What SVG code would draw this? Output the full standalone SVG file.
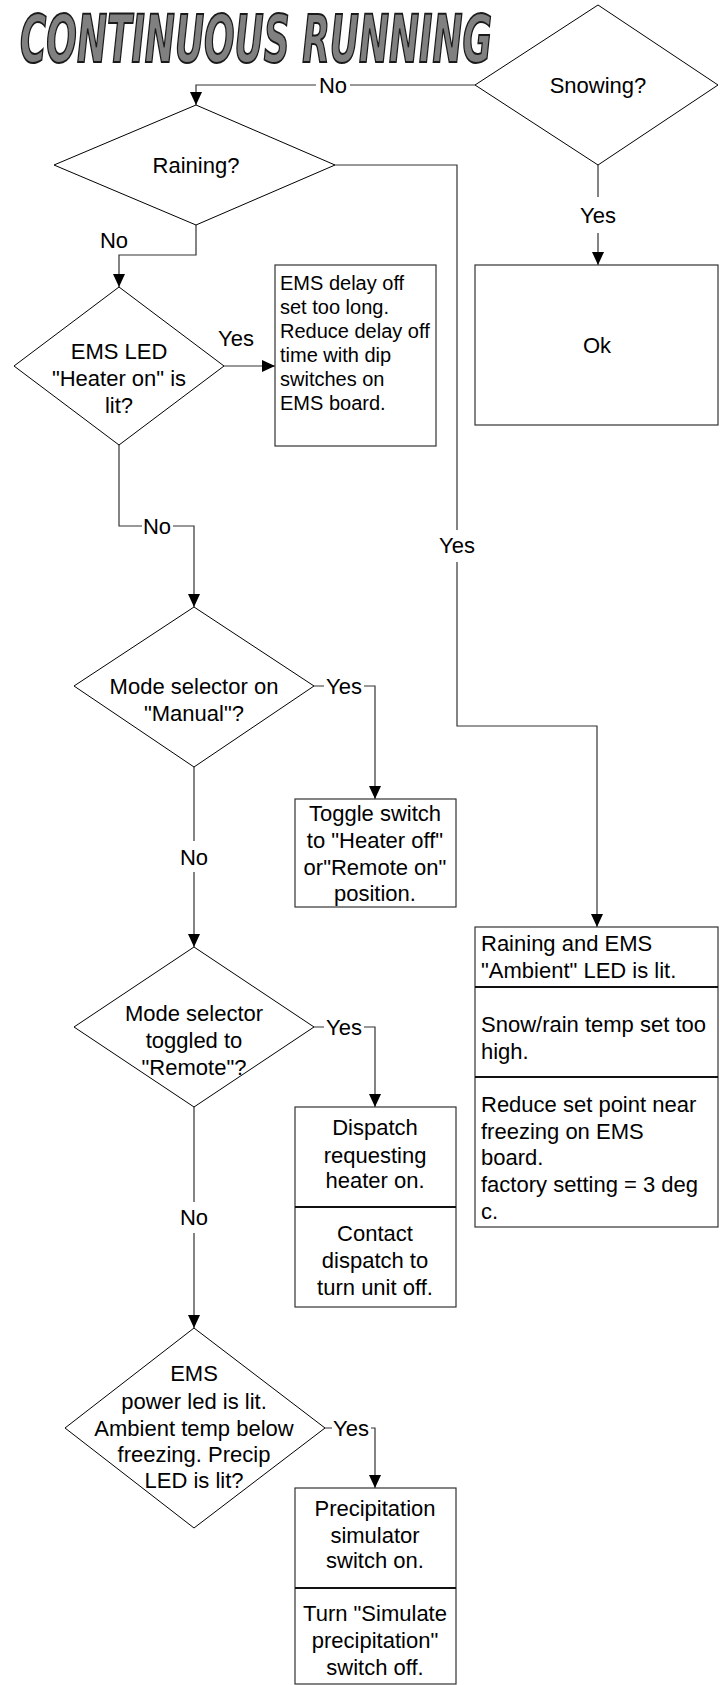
<svg xmlns="http://www.w3.org/2000/svg" width="720" height="1685" viewBox="0 0 720 1685">
<style>
text{font-family:"Liberation Sans",Arial,sans-serif;fill:#000}
.t{font-size:22px;text-anchor:middle}
.l{font-size:22px}
.s{font-size:20px}
.d{fill:#fff;stroke:#000;stroke-width:1}
.b{fill:#fff;stroke:#333;stroke-width:1.2}
.div{stroke:#111;stroke-width:2.2}
.c{fill:none;stroke:#333;stroke-width:1.2}
.title{font-family:"DejaVu Sans Condensed","DejaVu Sans",sans-serif;font-weight:bold;font-style:italic;font-size:66px;fill:#808080;stroke:#1a1a1a;stroke-width:2}
</style>
<defs>
<marker id="ah" markerUnits="userSpaceOnUse" markerWidth="14" markerHeight="12" refX="13" refY="6" orient="auto">
<path d="M0,0 L13,6 L0,12 Z" fill="#000"/>
</marker>
</defs>
<rect width="720" height="1685" fill="#fff"/>
<text class="title" x="20" y="62" textLength="472" lengthAdjust="spacingAndGlyphs">CONTINUOUS RUNNING</text>

<g id="connectors">
<path class="c" d="M475,85 H350 M316,85 H196 V105" marker-end="url(#ah)"/>
<path class="c" d="M598,165 V197 M598,233 V265" marker-end="url(#ah)"/>
<path class="c" d="M335,165 H457 V530 M457,562 V726 H597 V927" marker-end="url(#ah)"/>
<path class="c" d="M196,225 V255 H119 V287" marker-end="url(#ah)"/>
<path class="c" d="M224,366 H275" marker-end="url(#ah)"/>
<path class="c" d="M119,445 V526 H142 M173,526 H194 V607" marker-end="url(#ah)"/>
<path class="c" d="M314,686 H324 M364,686 H375 V799" marker-end="url(#ah)"/>
<path class="c" d="M194,767 V841 M194,872 V947" marker-end="url(#ah)"/>
<path class="c" d="M314,1027 H324 M364,1027 H375 V1107" marker-end="url(#ah)"/>
<path class="c" d="M194,1107 V1202 M194,1233 V1328" marker-end="url(#ah)"/>
<path class="c" d="M325,1428 H332 M371,1428 H375 V1488" marker-end="url(#ah)"/>
<text class="t" x="333" y="93">No</text>
<text class="t" x="598" y="223">Yes</text>
<text class="t" x="457" y="553">Yes</text>
<text class="t" x="114" y="248">No</text>
<text class="t" x="236" y="346">Yes</text>
<text class="t" x="157" y="534">No</text>
<text class="t" x="344" y="694">Yes</text>
<text class="t" x="194" y="865">No</text>
<text class="t" x="344" y="1035">Yes</text>
<text class="t" x="194" y="1225">No</text>
<text class="t" x="351" y="1436">Yes</text>
</g>

<g id="snowing">
<polygon class="d" points="598,5 718,85 598,165 475,85"/>
<text class="t" x="598" y="93">Snowing?</text>
</g>
<g id="ok">
<rect class="b" x="475" y="265" width="243" height="160"/>
<text class="t" x="597" y="353">Ok</text>
</g>
<g id="raining">
<polygon class="d" points="196,105 335,165 196,225 54,165"/>
<text class="t" x="196" y="173">Raining?</text>
</g>
<g id="ems-led">
<polygon class="d" points="119,287 224,366 119,445 14,366"/>
<text class="t" x="119" y="359">EMS LED</text>
<text class="t" x="119" y="386">"Heater on" is</text>
<text class="t" x="119" y="413">lit?</text>
</g>
<g id="ems-delay">
<rect class="b" x="275" y="265" width="161" height="181"/>
<text class="s" x="280" y="290">EMS delay off</text>
<text class="s" x="280" y="314">set too long.</text>
<text class="s" x="280" y="338">Reduce delay off</text>
<text class="s" x="280" y="362">time with dip</text>
<text class="s" x="280" y="386">switches on</text>
<text class="s" x="280" y="410">EMS board.</text>
</g>
<g id="mode-manual">
<polygon class="d" points="194,607 314,686 194,767 74,686"/>
<text class="t" x="194" y="694">Mode selector on</text>
<text class="t" x="194" y="721">"Manual"?</text>
</g>
<g id="toggle">
<rect class="b" x="295" y="799" width="161" height="108"/>
<text class="t" x="375" y="821">Toggle switch</text>
<text class="t" x="375" y="848">to "Heater off"</text>
<text class="t" x="375" y="875">or"Remote on"</text>
<text class="t" x="375" y="901">position.</text>
</g>
<g id="rain-box">
<rect class="b" x="475" y="927" width="243" height="300"/>
<line class="div" x1="475" y1="987" x2="718" y2="987"/>
<line class="div" x1="475" y1="1077" x2="718" y2="1077"/>
<text class="l" x="481" y="951">Raining and EMS</text>
<text class="l" x="481" y="978">"Ambient" LED is lit.</text>
<text class="l" x="481" y="1032">Snow/rain temp set too</text>
<text class="l" x="481" y="1059">high.</text>
<text class="l" x="481" y="1112">Reduce set point near</text>
<text class="l" x="481" y="1139">freezing on EMS</text>
<text class="l" x="481" y="1165">board.</text>
<text class="l" x="481" y="1192">factory setting = 3 deg</text>
<text class="l" x="481" y="1219">c.</text>
</g>
<g id="mode-remote">
<polygon class="d" points="194,947 314,1027 194,1107 74,1027"/>
<text class="t" x="194" y="1021">Mode selector</text>
<text class="t" x="194" y="1048">toggled to</text>
<text class="t" x="194" y="1075">"Remote"?</text>
</g>
<g id="dispatch">
<rect class="b" x="295" y="1107" width="161" height="200"/>
<line class="div" x1="295" y1="1207" x2="456" y2="1207"/>
<text class="t" x="375" y="1135">Dispatch</text>
<text class="t" x="375" y="1163">requesting</text>
<text class="t" x="375" y="1188">heater on.</text>
<text class="t" x="375" y="1241">Contact</text>
<text class="t" x="375" y="1268">dispatch to</text>
<text class="t" x="375" y="1295">turn unit off.</text>
</g>
<g id="ems-power">
<polygon class="d" points="194,1328 325,1428 194,1528 65,1428"/>
<text class="t" x="194" y="1381">EMS</text>
<text class="t" x="194" y="1409">power led is lit.</text>
<text class="t" x="194" y="1436">Ambient temp below</text>
<text class="t" x="194" y="1462">freezing. Precip</text>
<text class="t" x="194" y="1488">LED is lit?</text>
</g>
<g id="precip">
<rect class="b" x="295" y="1488" width="161" height="196"/>
<line class="div" x1="295" y1="1588" x2="456" y2="1588"/>
<text class="t" x="375" y="1516">Precipitation</text>
<text class="t" x="375" y="1543">simulator</text>
<text class="t" x="375" y="1568">switch on.</text>
<text class="t" x="375" y="1621">Turn "Simulate</text>
<text class="t" x="375" y="1648">precipitation"</text>
<text class="t" x="375" y="1675">switch off.</text>
</g>
</svg>
